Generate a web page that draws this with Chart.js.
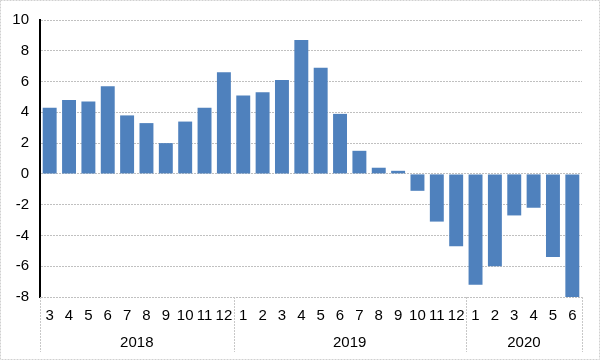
<!DOCTYPE html>
<html>
<head>
<meta charset="utf-8">
<script src="https://cdn.jsdelivr.net/npm/chart.js@4.4.1/dist/chart.umd.min.js"></script>
<style>
  html, body { margin: 0; padding: 0; background: #fff; }
  #wrap { width: 600px; height: 360px; position: relative; }
</style>
</head>
<body>
<div id="wrap"><canvas id="chart" width="600" height="360"></canvas></div>
<script>
const months = ['3','4','5','6','7','8','9','10','11','12',
                '1','2','3','4','5','6','7','8','9','10','11','12',
                '1','2','3','4','5','6'];
const years = ['2018', '2019', '2020'];
const yearSizes = [10, 12, 6];
const values = [4.3, 4.8, 4.7, 5.7, 3.8, 3.3, 2.0, 3.4, 4.3, 6.6,
                5.1, 5.3, 6.1, 8.7, 6.9, 3.9, 1.5, 0.4, 0.2, -1.1, -3.1, -4.7,
                -7.2, -6.0, -2.7, -2.2, -5.4, -8.0];
const yTicks = [-8, -6, -4, -2, 0, 2, 4, 6, 8, 10];

const FONT = 'Arial, "Liberation Sans", sans-serif';

// outer frame, year labels and group separators under the month ticks
const groupAxis = {
  id: 'groupAxis',
  beforeDraw(chart) {
    const ctx = chart.ctx;
    ctx.save();
    ctx.fillStyle = '#fff';
    ctx.fillRect(0, 0, chart.width, chart.height);
    ctx.strokeStyle = '#d0d0d0';
    ctx.lineWidth = 1;
    ctx.setLineDash([2, 1]);
    ctx.strokeRect(0.5, 0.5, chart.width - 1, chart.height - 1);
    ctx.restore();
  },
  afterDraw(chart) {
    const ctx = chart.ctx;
    const x = chart.scales.x;
    const area = chart.chartArea;
    const half = (x.getPixelForValue(1) - x.getPixelForValue(0)) / 2;
    ctx.save();
    ctx.strokeStyle = '#c8c8c8';
    ctx.lineWidth = 1;
    ctx.setLineDash([2, 1]);
    ctx.font = '15px ' + FONT;
    ctx.fillStyle = '#000';
    ctx.textAlign = 'center';
    ctx.textBaseline = 'middle';
    let start = 0;
    const edges = [Math.round(x.getPixelForValue(0) - half)];
    years.forEach((y, i) => {
      const end = start + yearSizes[i] - 1;
      const left = x.getPixelForValue(start) - half;
      const right = x.getPixelForValue(end) + half;
      edges.push(Math.round(right));
      ctx.fillText(y, (left + right) / 2, 343);
      start = end + 1;
    });
    edges.forEach(px => {
      ctx.beginPath();
      ctx.moveTo(px + 0.5, area.bottom);
      ctx.lineTo(px + 0.5, 352);
      ctx.stroke();
    });
    ctx.restore();
  }
};

new Chart(document.getElementById('chart'), {
  type: 'bar',
  data: {
    labels: months,
    datasets: [{
      data: values,
      backgroundColor: '#4f81bd',
      borderWidth: 0,
      categoryPercentage: 1,
      barPercentage: 0.72
    }]
  },
  options: {
    responsive: false,
    animation: false,
    layout: { padding: { top: 18, right: 18, left: 0, bottom: 0 } },
    plugins: {
      legend: { display: false },
      tooltip: { enabled: false }
    },
    scales: {
      x: {
        grid: { display: false, drawTicks: false },
        border: { display: false },
        ticks: {
          color: '#000',
          font: { family: FONT, size: 15 },
          padding: 10,
          autoSkip: false,
          maxRotation: 0,
          minRotation: 0
        },
        afterFit(scale) { scale.height = 63; }
      },
      y: {
        min: -8,
        max: 10,
        afterBuildTicks(scale) { scale.ticks = yTicks.map(v => ({ value: v })); },
        grid: {
          color: '#c0c0c0',
          drawTicks: false
        },
        border: { color: '#000', width: 2, dash: [2, 1] },
        ticks: {
          color: '#000',
          font: { family: FONT, size: 15 },
          padding: 11
        },
        afterFit(scale) { scale.width = 40; }
      }
    }
  },
  plugins: [groupAxis]
});
</script>
</body>
</html>
